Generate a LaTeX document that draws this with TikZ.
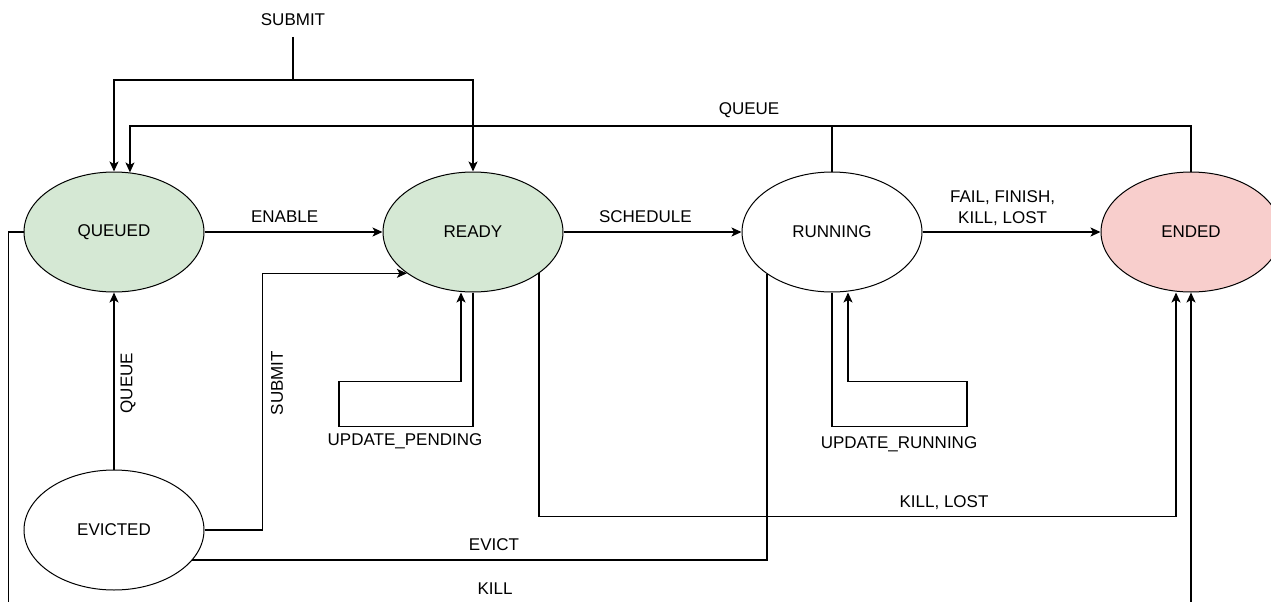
\documentclass[tikz,border=0pt]{standalone}
\usepackage{fontspec}
\setmainfont{Liberation Sans}
\usetikzlibrary{shapes.geometric,arrows.meta}
\definecolor{greenfill}{HTML}{D5E8D4}
\definecolor{redfill}{HTML}{F8CECC}
\begin{document}
\begin{tikzpicture}[x=1pt,y=-1pt,line width=1.3pt,
    font=\fontsize{17}{21}\selectfont,
    state/.style={draw,ellipse,line width=1pt,minimum width=180pt,minimum height=120pt,inner sep=0pt},
    lbl/.style={inner sep=2pt},
    arr/.style={-{Stealth[length=10pt,width=9pt,inset=2.5pt]}}]
    \useasboundingbox (0,0) rectangle (1271,602);
    \node[state,fill=greenfill] (queued) at (114,232) {QUEUED};
    \node[state,fill=greenfill] (ready) at (473,232) {READY};
    \node[state] (running) at (832,232) {RUNNING};
    \node[state,fill=redfill] (ended) at (1191,232) {ENDED};
    \node[state] (evicted) at (114,530) {EVICTED};

    \node[lbl] (lsub) at (293,20) {SUBMIT};
    \coordinate (fork) at (293,80);
    \draw (lsub) ++(0,17) -- (fork);
    \draw[arr] (fork) -| (queued.north);
    \draw[arr] (fork) -| (ready.north);

    \coordinate (qtop) at (832,126);
    \draw (running.north) -- (qtop);
    \draw[arr] (ended.north) |- (qtop) -| (queued.75.8);
    \node[lbl] (lqueue) at (749,110) {QUEUE};

    \draw[arr] (queued) -- node[lbl,above=7pt,pos=0.45] (lenable) {ENABLE} (ready);
    \draw[arr] (ready) -- node[lbl,above=7pt,pos=0.46] (lsched) {SCHEDULE} (running);
    \draw[arr] (running) -- node[lbl,above=4pt,pos=0.45,align=center] (lfail) {FAIL, FINISH,\\KILL, LOST} (ended);

    \draw[arr] (evicted) -- (queued);
    \node[lbl,rotate=90] (lqueue2) at (128,383) {QUEUE};
    \draw[arr] (evicted.east) -- ++(58,0) |- (ready.212);
    \node[lbl,rotate=90] (lsub2) at (277,383) {SUBMIT};

    \draw[arr] (ready.south) -- ++(0,134) -| ++(-134,-45) -| ([xshift=-12pt]ready.south);
    \node[lbl] (lpend) at (405,441) {UPDATE\_PENDING};
    \draw[arr] (running.south) -- ++(0,134) -| ++(135,-45) -| ([xshift=16pt]running.south);
    \node[lbl] (lrun) at (899,444) {UPDATE\_RUNNING};

    \draw[arr] (ready.-32.6) -- ++(0,243) -| ([xshift=-15pt]ended.south);
    \node[lbl] (lkl) at (944,503) {KILL, LOST};
    \draw (running.213) |- (evicted.-21.9);
    \node[lbl] (levict) at (494,545) {EVICT};
    \draw[arr] (queued.west) -- ++(-15,0) -- ++(0,374) -| (ended.south);
    \node[lbl] (lkill) at (495,589) {KILL};
\end{tikzpicture}
\end{document}
